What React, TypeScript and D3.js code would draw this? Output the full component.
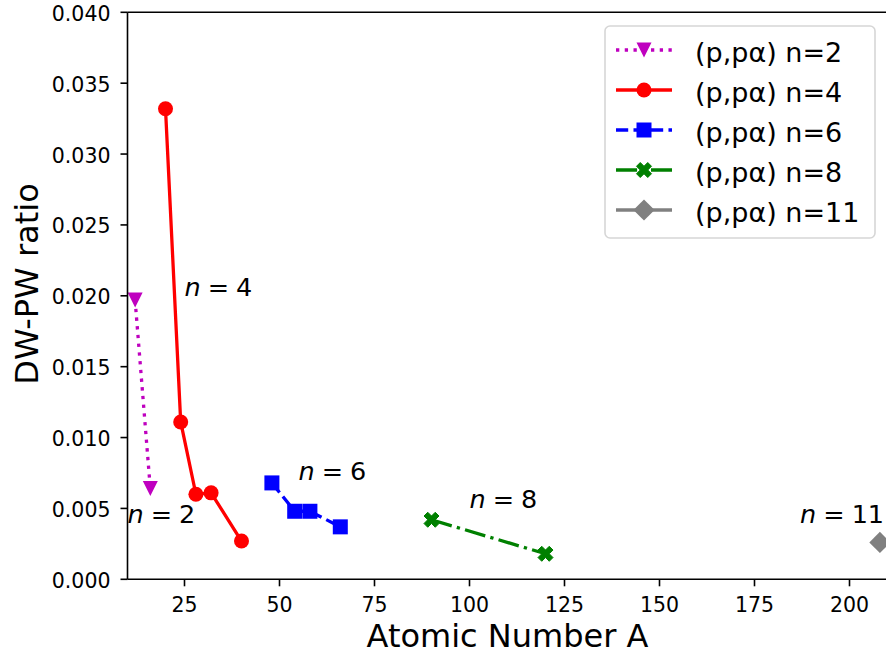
import React from "react";
import * as d3 from "d3";

const W = 886;
const H = 656;
const FONT = "DejaVu Sans, sans-serif";

// data
const n2A = [12, 16];
const n2R = [0.0197, 0.0064];
const n4A = [20, 24, 28, 32, 40];
const n4R = [0.0332, 0.0111, 0.006, 0.0061, 0.0027];
const n6A = [48, 54, 58, 66];
const n6R = [0.0068, 0.0048, 0.0048, 0.0037];
const n8A = [90, 120];
const n8R = [0.0042, 0.0018];
const n11A = [208];
const n11R = [0.0026];

const xTicks = [25, 50, 75, 100, 125, 150, 175, 200];
const yTicks = [0, 0.005, 0.01, 0.015, 0.02, 0.025, 0.03, 0.035, 0.04];

const annotations = [
  { label: "2", x: 10, y: 0.004 },
  { label: "4", x: 25, y: 0.02 },
  { label: "6", x: 55, y: 0.007 },
  { label: "8", x: 100, y: 0.005 },
  { label: "11", x: 187, y: 0.004 },
];

const seriesNames = ["(p,pα) n=2", "(p,pα) n=4", "(p,pα) n=6", "(p,pα) n=8", "(p,pα) n=11"];

const LW = 3.3;
const MS = 15;

type Series = {
  name: string;
  xs: number[];
  ys: number[];
  color: string;
  dash: string | undefined;
  marker: string;
};

const series: Series[] = [
  { name: seriesNames[0], xs: n2A, ys: n2R, color: "#bf00bf", dash: `${LW * 1} ${LW * 1.65}`, marker: "v" },
  { name: seriesNames[1], xs: n4A, ys: n4R, color: "#ff0000", dash: undefined, marker: "o" },
  { name: seriesNames[2], xs: n6A, ys: n6R, color: "#0000ff", dash: `${LW * 3.7} ${LW * 1.6}`, marker: "s" },
  { name: seriesNames[3], xs: n8A, ys: n8R, color: "#008000", dash: `${LW * 6.4} ${LW * 1.6} ${LW * 1} ${LW * 1.6}`, marker: "X" },
  { name: seriesNames[4], xs: n11A, ys: n11R, color: "#808080", dash: undefined, marker: "D" },
];

function Marker({ type, x, y, color }: { type: string; x: number; y: number; color: string }) {
  const h = MS / 2;
  if (type === "o") return <circle cx={x} cy={y} r={h} fill={color} />;
  if (type === "s") return <rect x={x - h} y={y - h} width={MS} height={MS} fill={color} />;
  if (type === "v")
    return <path d={`M${x - h},${y - h}L${x + h},${y - h}L${x},${y + h}Z`} fill={color} />;
  if (type === "D") {
    const d = MS * 0.707;
    return <path d={`M${x},${y - d}L${x + d},${y}L${x},${y + d}L${x - d},${y}Z`} fill={color} />;
  }
  if (type === "X") {
    const pts = [
      [-1, -2], [0, -1], [1, -2], [2, -1], [1, 0], [2, 1],
      [1, 2], [0, 1], [-1, 2], [-2, 1], [-1, 0], [-2, -1],
    ].map(([a, b]) => `${x + (a / 4) * MS},${y + (b / 4) * MS}`);
    return <path d={`M${pts.join("L")}Z`} fill={color} stroke={color} strokeWidth={1} />;
  }
  return null;
}

export default function App() {
  const left = 127.5;
  const top = 12.3;
  const bottom = 579.3;
  const x = d3.scaleLinear().domain([10, 210]).range([left, 887.5]);
  const y = d3.scaleLinear().domain([0, 0.04]).range([bottom, top]);
  const right = x(210);

  const line = d3
    .line<[number, number]>()
    .x((d) => x(d[0]))
    .y((d) => y(d[1]));

  const legX = 605;
  const legY = 26;
  const rowY = (i: number) => 50 + i * 40;

  return (
    <svg
      width={W}
      height={H}
      style={{ position: "absolute", left: 0, top: 0, background: "#fff" }}
      fontFamily={FONT}
    >
      <defs>
        <clipPath id="plotclip">
          <rect x={left} y={top} width={right - left} height={bottom - top} />
        </clipPath>
      </defs>
      <rect x={0} y={0} width={W} height={H} fill="#fff" />

      {/* series */}
      <g clipPath="url(#plotclip)">
        {series.map((s) => {
          const pts = s.xs.map((v, i) => [v, s.ys[i]] as [number, number]);
          return (
            <g key={s.name}>
              {pts.length > 1 && (
                <path
                  d={line(pts) || ""}
                  fill="none"
                  stroke={s.color}
                  strokeWidth={LW}
                  strokeDasharray={s.dash}
                  strokeLinejoin="round"
                />
              )}
              {pts.map((p, i) => (
                <Marker key={i} type={s.marker} x={x(p[0])} y={y(p[1])} color={s.color} />
              ))}
            </g>
          );
        })}
      </g>

      {/* annotations */}
      {annotations.map((a) => (
        <text key={a.label} x={x(a.x)} y={y(a.y)} fontSize={25.5} fill="#000">
          <tspan fontStyle="italic">n</tspan>
          <tspan dx={7}>=</tspan>
          <tspan dx={7}>{a.label}</tspan>
        </text>
      ))}

      {/* spines */}
      <g stroke="#000" strokeWidth={1.6} fill="none">
        <line x1={left} x2={left} y1={top} y2={bottom} />
        <line x1={left} x2={right} y1={bottom} y2={bottom} />
        <line x1={left} x2={right} y1={top} y2={top} />
        <line x1={right} x2={right} y1={top} y2={bottom} />
      </g>

      {/* x ticks */}
      {xTicks.map((t) => (
        <g key={t}>
          <line x1={x(t)} x2={x(t)} y1={bottom} y2={bottom + 7} stroke="#000" strokeWidth={1.6} />
          <text x={x(t)} y={bottom + 32.7} textAnchor="middle" fontSize={20.5} fill="#000">
            {t}
          </text>
        </g>
      ))}

      {/* y ticks */}
      {yTicks.map((t) => (
        <g key={t}>
          <line x1={left - 7} x2={left} y1={y(t)} y2={y(t)} stroke="#000" strokeWidth={1.6} />
          <text x={left - 17} y={y(t) + 8.5} textAnchor="end" fontSize={20.5} fill="#000">
            {t.toFixed(3)}
          </text>
        </g>
      ))}

      {/* axis labels */}
      <text x={(left + right) / 2} y={646.5} textAnchor="middle" fontSize={32} fill="#000">
        Atomic Number A
      </text>
      <text
        transform={`translate(38,284) rotate(-90)`}
        textAnchor="middle"
        fontSize={32}
        fill="#000"
      >
        DW-PW ratio
      </text>

      {/* legend */}
      <rect
        x={legX}
        y={legY}
        width={270}
        height={212}
        rx={5}
        fill="#fff"
        fillOpacity={0.8}
        stroke="#d6d6d6"
        strokeWidth={1.6}
      />
      {series.map((s, i) => (
        <g key={s.name}>
          <line
            x1={616}
            x2={672}
            y1={rowY(i)}
            y2={rowY(i)}
            stroke={s.color}
            strokeWidth={LW}
            strokeDasharray={s.dash}
          />
          <Marker type={s.marker} x={644} y={rowY(i)} color={s.color} />
          <text x={695} y={rowY(i) + 11.7} fontSize={27} fill="#000">
            {s.name}
          </text>
        </g>
      ))}
    </svg>
  );
}
